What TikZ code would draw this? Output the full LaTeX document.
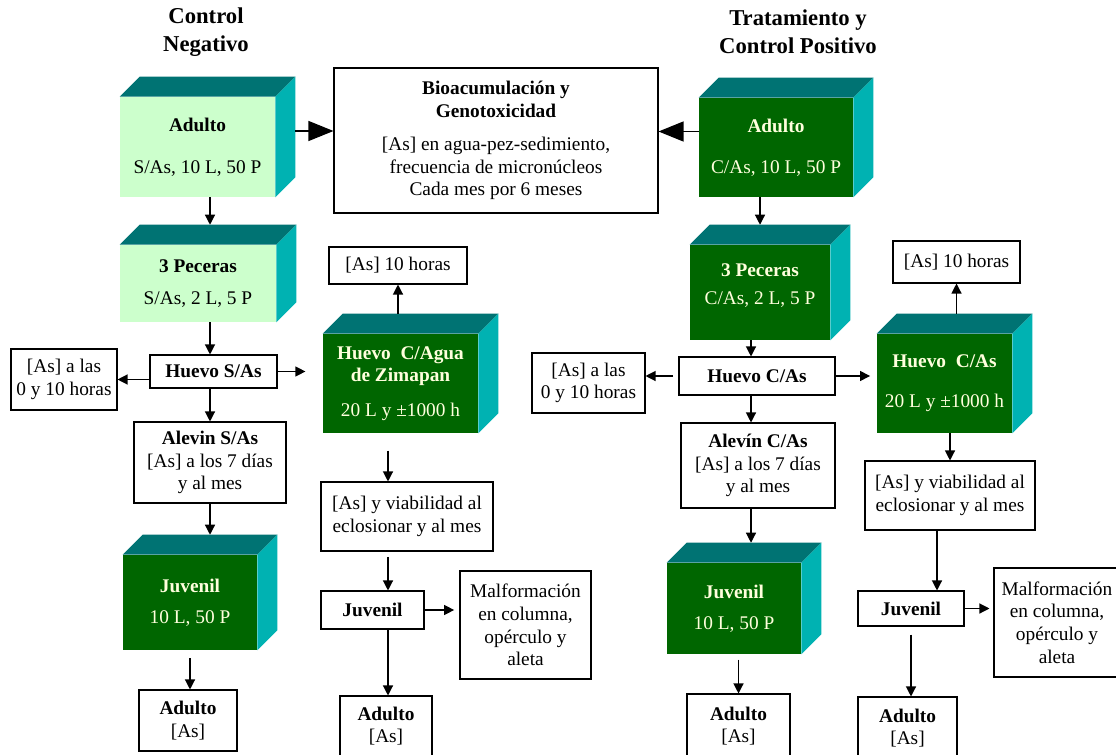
\documentclass[tikz,border=0pt]{standalone}
\usepackage{fontspec}
\setmainfont{Liberation Serif}
\usetikzlibrary{arrows.meta,positioning,calc}
\definecolor{verdeclaro}{HTML}{CCFFCC}
\definecolor{verdeosc}{HTML}{006600}
\definecolor{tapa}{HTML}{007373}
\definecolor{lado}{HTML}{00B2B2}
\definecolor{crema}{HTML}{FFFFDD}
\newcommand{\letra}{\fontsize{14.5pt}{17pt}\selectfont}
\tikzset{
  caja/.style={draw=black, fill=white, line width=0.8pt, align=center,
               inner sep=2pt, font=\letra},
  cubo/.style={fill=#1, inner sep=0pt, align=center, font=\letra},
  dim/.style 2 args={minimum width=#1*0.75pt, minimum height=#2*0.75pt},
  flecha/.style={-{Triangle[length=7.5pt,width=7.5pt]}, line width=0.9pt, draw=black},
  flechaG/.style={-{Triangle[length=18.75pt,width=15pt]}, line width=0.9pt, draw=black},
  titulo/.style={align=center, font=\fontsize{17pt}{21pt}\selectfont\bfseries}
}

\begin{document}
\begin{tikzpicture}[x=0.75pt,y=-0.75pt,>=Latex]
        \useasboundingbox[fill=white] (0,0) rectangle (1116,755);

        \node[titulo] (tNeg) at (206,32) {Control\\Negativo};
        \node[titulo] (tPos) at (798,32) {Tratamiento y\\Control Positivo};

        \node[caja,dim={324}{145}] (bio) at (496,140.5)
          {\textbf{Bioacumulación y}\\\textbf{Genotoxicidad}\\[8pt]
           [As] en agua-pez-sedimiento,\\frecuencia de micronúcleos\\Cada mes por 6 meses};

        % control negativo
        \node[cubo=verdeclaro,dim={155}{100}] (adultoS) at (197.5,147)
          {\textbf{Adulto}\\[14.5pt]S/As, 10 L, 50 P};
        \node[cubo=verdeclaro,dim={156}{77}] (pecerasS) at (198,283.5)
          {\textbf{3 Peceras}\\[7pt]S/As, 2 L, 5 P};
        \node[caja,dim={127}{33}] (huevoS) at (213.5,371.5) {\textbf{Huevo S/As}};
        \node[caja,dim={106}{61}] (horasS0) at (64,379.5) {[As] a las\\0 y 10 horas};
        \node[caja,dim={152}{81}] (alevinS) at (210,462.5)
          {\textbf{Alevin S/As}\\{[As]} a los 7 días\\y al mes};
        \node[cubo=verdeosc,text=crema,dim={134}{95}] (juvenilS) at (190,602.5)
          {\textbf{Juvenil}\\[6pt]10 L, 50 P};
        \node[caja,dim={98}{61}] (adultoSf) at (188,720.5) {\textbf{Adulto}\\{[As]}};

        \node[caja,dim={138}{37}] (horas10A) at (398,265.5) {[As] 10 horas};
        \node[cubo=verdeosc,text=crema,dim={155}{99}] (huevoAgua) at (400.5,383.5)
          {\textbf{Huevo~~C/Agua}\\\textbf{de Zimapan}\\[9pt]20 L y ±1000 h};
        \node[caja,dim={172}{69}] (viabA) at (407,516.5) {[As] y viabilidad al\\eclosionar y al mes};
        \node[caja,dim={103}{38}] (juvA) at (372.5,610) {\textbf{Juvenil}};
        \node[caja,dim={131}{108}] (malfA) at (525.5,625)
          {Malformación\\en columna,\\opérculo y\\aleta};
        \node[caja,dim={92}{60}] (adultoAf) at (386,726) {\textbf{Adulto}\\{[As]}};

        % tratamiento y control positivo
        \node[cubo=verdeosc,text=crema,dim={154}{99}] (adultoC) at (776,147.5)
          {\textbf{Adulto}\\[13.5pt]C/As, 10 L, 50 P};
        \node[cubo=verdeosc,text=crema,dim={140}{95}] (pecerasC) at (760,292.5)
          {\textbf{3 Peceras}\\[4pt]C/As, 2 L, 5 P\\[-4pt]\mbox{}};
        \node[caja,dim={156}{38}] (huevoC) at (757,376) {\textbf{Huevo C/As}};
        \node[caja,dim={113}{60}] (horasC0) at (588.5,383) {[As] a las\\0 y 10 horas};
        \node[caja,dim={154}{85}] (alevinC) at (758,465.5)
          {\textbf{Alevín C/As}\\{[As]} a los 7 días\\y al mes};
        \node[cubo=verdeosc,text=crema,dim={134}{91}] (juvC) at (734,608.5)
          {\textbf{Juvenil}\\[6pt]10 L, 50 P};
        \node[caja,dim={103}{64}] (adultoCf) at (738.5,726) {\textbf{Adulto}\\{[As]}};

        \node[caja,dim={127}{42}] (horas10C) at (956.5,262) {[As] 10 horas};
        \node[cubo=verdeosc,text=crema,dim={135}{99}] (huevoCc) at (944.5,383.5)
          {\textbf{Huevo~~C/As}\\[13pt]20 L y ±1000 h};
        \node[caja,dim={170}{69}] (viabC) at (950,495.5) {[As] y viabilidad al\\eclosionar y al mes};
        \node[caja,dim={106}{35}] (juvCb) at (911,608.5) {\textbf{Juvenil}};
        \node[caja,dim={126}{109}] (malfC) at (1057,622.5)
          {Malformación\\en columna,\\opérculo y\\aleta};
        \node[caja,dim={99}{62}] (adultoC2) at (907.5,728) {\textbf{Adulto}\\{[As]}};

        % caras de los cubos
        \foreach \c in {adultoS,pecerasS,juvenilS,huevoAgua,adultoC,pecerasC,juvC,huevoCc} {
          \fill[tapa] (\c.north west) -- ++(20,-20) -- ($(\c.north east)+(20,-20)$) -- (\c.north east) -- cycle;
          \fill[lado] (\c.north east) -- ++(20,-20) -- ($(\c.south east)+(20,-20)$) -- (\c.south east) -- cycle;
          \coordinate (\c-t) at ($(\c.north)+(0,-20)$);
        }

        \coordinate (ejeA) at (388,0);
        \coordinate (ejeC) at (751,0);
        \coordinate (ejeD) at (937,0);
        \coordinate (bioL) at ([yshift=12pt]adultoS.east);
        \coordinate (bioR) at ([yshift=12pt]adultoC.west);

        \draw[flechaG,shorten <=15pt] (bioL) -- (bioL -| bio.west);
        \draw[flechaG] (bioR) -- (bioR -| bio.east);

        \draw[flecha] (adultoS.south -| alevinS) -- (pecerasS-t -| alevinS);
        \draw[flecha] (pecerasS.south -| alevinS) -- (huevoS.north -| alevinS);
        \draw[flecha] (huevoS.south -| alevinS) -- (alevinS.north);
        \draw[flecha] (alevinS.south) -- (juvenilS-t -| alevinS);
        \draw[flecha] (huevoS.west |- horasS0) -- (horasS0.east);
        \draw[flecha,shorten >=13pt] (huevoS.east) -- (huevoS.east -| huevoAgua.west);
        \draw[flecha,shorten <=6pt] (juvenilS.south) -- (juvenilS.south |- adultoSf.north);

        \draw[flecha] (huevoAgua-t -| horas10A) -- (horas10A.south);
        \draw[flecha,shorten <=13pt] (huevoAgua.south -| ejeA) -- (viabA.north -| ejeA);
        \draw[flecha,shorten <=4pt] (viabA.south -| ejeA) -- (juvA.north -| ejeA);
        \draw[flecha] (juvA.south -| ejeA) -- (adultoAf.north -| ejeA);
        \draw[flecha,shorten >=4pt] (juvA.east) -- (juvA.east -| malfA.west);

        \draw[flecha] (adultoC.south -| pecerasC) -- (pecerasC-t);
        \draw[flecha] (pecerasC.south -| ejeC) -- (huevoC.north -| ejeC);
        \draw[flecha] (huevoC.south -| ejeC) -- (alevinC.north -| ejeC);
        \draw[flecha] (alevinC.south -| ejeC) -- (juvC-t -| ejeC);
        \draw[flecha,shorten <=4pt] (juvC.south -| adultoCf) -- (adultoCf.north);
        \draw[flecha,shorten <=4pt] (huevoC.west) -- (huevoC.west -| horasC0.east);
        \draw[flecha,shorten >=5pt] (huevoC.east) -- (huevoC.east -| huevoCc.west);

        \draw[flecha] (huevoCc-t -| horas10C) -- (horas10C.south);
        \draw[flecha] (huevoCc.south -| viabC) -- (viabC.north);
        \draw[flecha] (viabC.south -| ejeD) -- (juvCb.north -| ejeD);
        \draw[flecha,shorten >=3pt] (juvCb.east) -- (juvCb.east -| malfC.west);
        \draw[flecha,shorten <=6pt] (juvCb.south) -- (juvCb.south |- adultoC2.north);
      \end{tikzpicture}
\end{document}
